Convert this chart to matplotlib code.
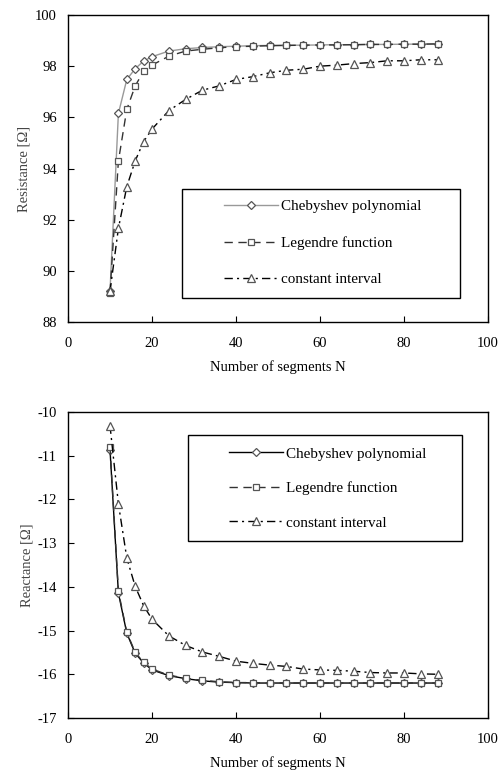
import matplotlib
matplotlib.use("Agg")
import matplotlib.pyplot as plt
from matplotlib.patches import Rectangle

plt.rcParams['font.family'] = ['Liberation Serif', 'DejaVu Serif']
plt.rcParams['axes.unicode_minus'] = False

# ---- data ----
N = [10, 12, 14, 16, 18, 20, 24, 28, 32, 36, 40, 44, 48, 52, 56, 60, 64, 68, 72, 76, 80, 84, 88]

cheb_R = [89.20, 96.15, 97.48, 97.90, 98.20, 98.37, 98.59, 98.68, 98.73, 98.76, 98.78, 98.80,
          98.81, 98.82, 98.82, 98.83, 98.84, 98.84, 98.85, 98.85, 98.86, 98.86, 98.87]
leg_R = [89.15, 94.29, 96.31, 97.23, 97.80, 98.04, 98.39, 98.59, 98.66, 98.72, 98.76, 98.78,
         98.80, 98.81, 98.82, 98.83, 98.83, 98.84, 98.85, 98.85, 98.86, 98.86, 98.87]
const_R = [89.20, 91.66, 93.29, 94.30, 95.05, 95.54, 96.26, 96.70, 97.06, 97.23, 97.48, 97.59,
           97.74, 97.84, 97.88, 98.00, 98.04, 98.10, 98.14, 98.21, 98.21, 98.25, 98.25]

cheb_X = [-10.86, -14.14, -15.06, -15.52, -15.74, -15.90, -16.03, -16.10, -16.15, -16.18, -16.19, -16.20,
          -16.20, -16.20, -16.20, -16.20, -16.20, -16.20, -16.20, -16.20, -16.20, -16.20, -16.20]
leg_X = [-10.80, -14.10, -15.04, -15.50, -15.73, -15.88, -16.02, -16.09, -16.14, -16.17, -16.19, -16.19,
         -16.20, -16.20, -16.20, -16.20, -16.20, -16.20, -16.20, -16.20, -16.20, -16.20, -16.20]
const_X = [-10.31, -12.10, -13.34, -13.99, -14.43, -14.74, -15.12, -15.34, -15.49, -15.59, -15.70, -15.75,
           -15.79, -15.82, -15.88, -15.90, -15.91, -15.93, -15.96, -15.97, -15.97, -15.99, -16.00]

labels = ["Chebyshev polynomial", "Legendre function", "constant interval"]
x_ticks = [0, 20, 40, 60, 80, 100]
R_ticks = [88, 90, 92, 94, 96, 98, 100]
X_ticks = [-17, -16, -15, -14, -13, -12, -11, -10]

FS = 10.5
LFS = 10.9
fig = plt.figure(figsize=(5.04, 7.74), dpi=100)
ax1 = fig.add_axes([68/504, 1-322/774, 420/504, 307/774])
ax2 = fig.add_axes([68/504, 1-718/774, 420/504, 306/774])

mec = '#555555'


def draw(ax, ys, cheb_color, legend_xy, legend_box, spacing, ylabel, yticks, ylim):
    c, l, k = ys
    ax.plot(N, c, color=cheb_color, lw=1.0, marker='D', ms=4.5, mfc='white', mec=mec, mew=0.9,
            label=labels[0])
    h2, = ax.plot(N, l, color='#333333', lw=1.0, marker='s', ms=5, mfc='white', mec=mec, mew=0.9,
                  label=labels[1])
    h2.set_dashes((6, 4))
    h3, = ax.plot(N, k, color='black', lw=1.0, marker='^', ms=6, mfc='white', mec=mec, mew=0.9,
                  label=labels[2])
    h3.set_dashes((6, 3, 1.5, 3))
    ax.set_xlim(0, 100)
    ax.set_ylim(*ylim)
    ax.set_xticks(x_ticks)
    ax.set_yticks(yticks)
    ax.tick_params(axis='x', direction='in', length=4, pad=11, labelsize=FS, width=0.8)
    ax.tick_params(axis='y', direction='in', length=4, pad=8, labelsize=FS, width=0.8)
    for s in ax.spines.values():
        s.set_linewidth(1.0)
    ax.set_xlabel("Number of segments N", fontsize=FS, labelpad=7)
    ax.set_ylabel(ylabel, fontsize=FS, color='#444444', labelpad=3)
    x0, y0, x1, y1 = legend_box
    ax.add_patch(Rectangle((x0, y0), x1-x0, y1-y0, transform=ax.transAxes, fill=False,
                           lw=1.0, ec='black', zorder=5))
    ax.legend(loc='upper left', bbox_to_anchor=legend_xy, frameon=False, fontsize=LFS,
              handlelength=3.6, handletextpad=0.2, labelspacing=spacing, borderpad=0,
              borderaxespad=0)


draw(ax1, (cheb_R, leg_R, const_R), '#999999', (0.371, 0.398), (0.271, 0.078, 0.933, 0.433), 1.5,
     "Resistance [Ω]", R_ticks, (88, 100))
draw(ax2, (cheb_X, leg_X, const_X), 'black', (0.383, 0.885), (0.286, 0.578, 0.938, 0.925), 1.37,
     "Reactance [Ω]", X_ticks, (-17, -10))

fig.savefig("out.png", dpi=100)
